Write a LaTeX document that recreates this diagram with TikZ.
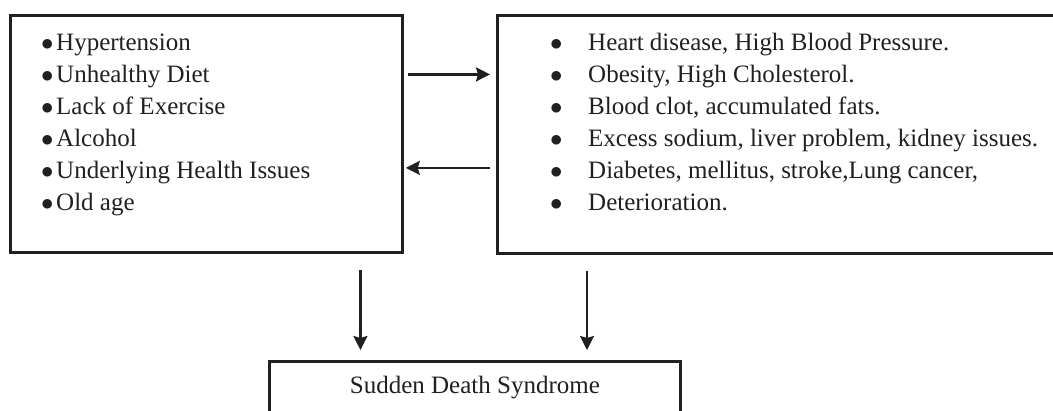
\documentclass[tikz,border=0pt]{standalone}
\usepackage{fontspec}
\setmainfont{Liberation Serif}
\usetikzlibrary{calc, positioning}
\usetikzlibrary{arrows.meta}
\definecolor{ink}{RGB}{35,31,32}
\tikzset{
  font=\fontsize{25}{32}\selectfont,
  % Set arrowhead
  >={Stealth[length=14pt, width=14pt, inset=2pt]},
  % Outlined box
  box/.style={draw=ink, line width=2.8pt, shape=rectangle, anchor=north west,
    inner sep=0pt},
  % List of items
  items/.style={text=ink, align=left, anchor=north west, inner sep=0pt},
  % Arrows
  link/.style={->, draw=ink, line width=2.3pt},
}
\newcommand{\lbul}{\makebox[15pt][l]{$\bullet$}}
\newcommand{\rbul}{\makebox[38pt][l]{$\bullet$}}

\begin{document}
\begin{tikzpicture}[x=1pt, y=-1pt]
  \useasboundingbox (0,0) rectangle (1053,410);
  \clip (0,0) rectangle (1053,410);

  \node[box, minimum width=392pt, minimum height=237pt] (causes) at (9,14) {};
  \node[box, minimum width=580pt, minimum height=238pt] (effects) at (496,14) {};
  \node[box, minimum width=411pt, minimum height=90pt] (sudden) at (268,360) {};

  \node[items] (causelist) at (41,33.6) {%
    \lbul Hypertension\\
    \lbul Unhealthy Diet\\
    \lbul Lack of Exercise\\
    \lbul Alcohol\\
    \lbul Underlying Health Issues\\
    \lbul Old age};
  \node[items] (effectlist) at (550,32.9) {%
    \rbul Heart disease, High Blood Pressure.\\
    \rbul Obesity, High Cholesterol.\\
    \rbul Blood clot, accumulated fats.\\
    \rbul Excess sodium, liver problem, kidney issues.\\
    \rbul Diabetes, mellitus, stroke,Lung cancer,\\
    \rbul Deterioration.};
  \node[text=ink, anchor=base, inner sep=0pt] (suddenlbl)
    at ([yshift=-33pt]sudden.north) {Sudden Death Syndrome};

  \draw[link, shorten <=4pt, shorten >=6pt]
    ([yshift=59.5pt]causes.east) -- ([yshift=59.5pt]causes.east -| effects.west);
  \draw[link, shorten <=6pt, shorten >=2pt]
    ([yshift=-33.5pt]effects.west) -- ([yshift=-33.5pt]effects.west -| causes.east);
  \draw[link, shorten <=16pt, shorten >=10pt]
    ([xshift=154pt]causes.south) -- ([xshift=154pt]causes.south |- sudden.north);
  \draw[link, shorten <=16pt, shorten >=10pt]
    ([xshift=91pt]effects.south west) -- ([xshift=91pt]effects.south west |- sudden.north);
\end{tikzpicture}
\end{document}
